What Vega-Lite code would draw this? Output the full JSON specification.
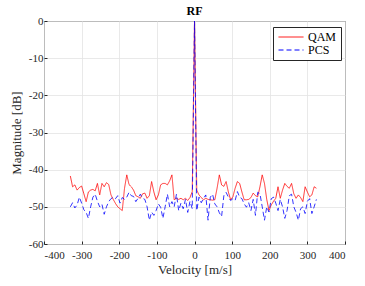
{
  "$schema": "https://vega.github.io/schema/vega-lite/v6.json",
  "autosize": {"type": "none"},
  "padding": {"left": 44, "top": 21, "right": 20, "bottom": 42},
  "width": 301,
  "height": 223,
  "title": {"text": "RF", "font": "Liberation Serif", "fontSize": 12, "fontWeight": "bold", "color": "#000000", "offset": 0, "dy": 3},
  "config": {
    "view": {"stroke": "#262626", "strokeWidth": 1},
    "axis": {
      "labelFont": "Liberation Serif", "titleFont": "Liberation Serif",
      "labelFontSize": 11, "titleFontSize": 13, "titleFontWeight": "normal",
      "labelColor": "#262626", "titleColor": "#262626",
      "gridColor": "#e3e3e3", "gridWidth": 0.8,
      "domain": false, "tickColor": "#262626", "tickSize": -3
    }
  },
  "data": {"values": [
    {"v": -330, "QAM": -41.7, "PCS": -50.0},
    {"v": -324, "QAM": -44.6, "PCS": -48.9},
    {"v": -318, "QAM": -44.1, "PCS": -50.3},
    {"v": -312, "QAM": -45.5, "PCS": -49.5},
    {"v": -306, "QAM": -44.8, "PCS": -47.4},
    {"v": -300, "QAM": -44.4, "PCS": -49.0},
    {"v": -294, "QAM": -46.5, "PCS": -50.8},
    {"v": -288, "QAM": -48.6, "PCS": -51.5},
    {"v": -282, "QAM": -46.0, "PCS": -53.1},
    {"v": -276, "QAM": -45.5, "PCS": -50.0},
    {"v": -270, "QAM": -45.3, "PCS": -47.4},
    {"v": -264, "QAM": -45.7, "PCS": -46.6},
    {"v": -258, "QAM": -43.7, "PCS": -48.5},
    {"v": -252, "QAM": -46.8, "PCS": -50.0},
    {"v": -246, "QAM": -43.7, "PCS": -49.3},
    {"v": -240, "QAM": -44.6, "PCS": -52.0},
    {"v": -234, "QAM": -43.5, "PCS": -50.0},
    {"v": -228, "QAM": -44.0, "PCS": -48.6},
    {"v": -222, "QAM": -46.8, "PCS": -47.8},
    {"v": -216, "QAM": -48.0, "PCS": -47.4},
    {"v": -210, "QAM": -49.1, "PCS": -47.8},
    {"v": -204, "QAM": -50.0, "PCS": -47.0},
    {"v": -198, "QAM": -50.5, "PCS": -49.0},
    {"v": -192, "QAM": -51.0, "PCS": -47.5},
    {"v": -186, "QAM": -45.0, "PCS": -48.0},
    {"v": -180, "QAM": -41.4, "PCS": -47.4},
    {"v": -174, "QAM": -44.0, "PCS": -46.1},
    {"v": -168, "QAM": -44.6, "PCS": -47.0},
    {"v": -162, "QAM": -45.5, "PCS": -47.2},
    {"v": -156, "QAM": -47.0, "PCS": -48.6},
    {"v": -150, "QAM": -47.3, "PCS": -47.7},
    {"v": -144, "QAM": -47.7, "PCS": -46.6},
    {"v": -138, "QAM": -46.5, "PCS": -47.7},
    {"v": -132, "QAM": -46.3, "PCS": -48.0},
    {"v": -126, "QAM": -47.7, "PCS": -50.0},
    {"v": -120, "QAM": -47.0, "PCS": -53.6},
    {"v": -114, "QAM": -43.2, "PCS": -51.4},
    {"v": -108, "QAM": -46.0, "PCS": -52.3},
    {"v": -102, "QAM": -48.1, "PCS": -51.0},
    {"v": -96, "QAM": -46.8, "PCS": -49.2},
    {"v": -90, "QAM": -44.1, "PCS": -50.1},
    {"v": -84, "QAM": -43.7, "PCS": -53.1},
    {"v": -78, "QAM": -43.7, "PCS": -50.0},
    {"v": -72, "QAM": -44.1, "PCS": -46.6},
    {"v": -66, "QAM": -43.0, "PCS": -50.0},
    {"v": -60, "QAM": -41.4, "PCS": -48.6},
    {"v": -54, "QAM": -48.1, "PCS": -50.0},
    {"v": -48, "QAM": -47.7, "PCS": -46.6},
    {"v": -42, "QAM": -48.0, "PCS": -51.0},
    {"v": -36, "QAM": -47.7, "PCS": -49.0},
    {"v": -30, "QAM": -48.1, "PCS": -50.5},
    {"v": -24, "QAM": -47.7, "PCS": -48.0},
    {"v": -18, "QAM": -48.3, "PCS": -51.5},
    {"v": -12, "QAM": -47.5, "PCS": -48.5},
    {"v": -6, "QAM": -45.9, "PCS": -50.5},
    {"v": 0, "QAM": 0, "PCS": 0},
    {"v": 6, "QAM": -45.5, "PCS": -51.0},
    {"v": 12, "QAM": -46.8, "PCS": -47.4},
    {"v": 18, "QAM": -47.5, "PCS": -48.9},
    {"v": 24, "QAM": -48.1, "PCS": -47.7},
    {"v": 30, "QAM": -47.7, "PCS": -46.8},
    {"v": 36, "QAM": -48.0, "PCS": -53.6},
    {"v": 42, "QAM": -48.1, "PCS": -47.4},
    {"v": 48, "QAM": -48.2, "PCS": -46.6},
    {"v": 54, "QAM": -48.1, "PCS": -49.2},
    {"v": 60, "QAM": -45.0, "PCS": -50.0},
    {"v": 66, "QAM": -41.4, "PCS": -51.6},
    {"v": 72, "QAM": -44.1, "PCS": -52.6},
    {"v": 78, "QAM": -44.5, "PCS": -47.0},
    {"v": 84, "QAM": -43.2, "PCS": -46.1},
    {"v": 90, "QAM": -46.0, "PCS": -47.4},
    {"v": 96, "QAM": -48.1, "PCS": -48.3},
    {"v": 102, "QAM": -47.3, "PCS": -47.8},
    {"v": 108, "QAM": -45.0, "PCS": -48.3},
    {"v": 114, "QAM": -43.2, "PCS": -45.9},
    {"v": 120, "QAM": -43.7, "PCS": -47.4},
    {"v": 126, "QAM": -46.0, "PCS": -47.8},
    {"v": 132, "QAM": -48.1, "PCS": -49.2},
    {"v": 138, "QAM": -48.1, "PCS": -50.1},
    {"v": 144, "QAM": -48.0, "PCS": -48.9},
    {"v": 150, "QAM": -47.5, "PCS": -51.0},
    {"v": 156, "QAM": -46.3, "PCS": -48.0},
    {"v": 162, "QAM": -47.0, "PCS": -52.3},
    {"v": 168, "QAM": -47.3, "PCS": -46.1},
    {"v": 174, "QAM": -44.6, "PCS": -46.5},
    {"v": 180, "QAM": -41.4, "PCS": -50.0},
    {"v": 186, "QAM": -43.7, "PCS": -53.6},
    {"v": 192, "QAM": -48.0, "PCS": -50.0},
    {"v": 198, "QAM": -51.0, "PCS": -51.4},
    {"v": 204, "QAM": -49.5, "PCS": -47.8},
    {"v": 210, "QAM": -48.5, "PCS": -47.4},
    {"v": 216, "QAM": -47.7, "PCS": -49.0},
    {"v": 222, "QAM": -44.6, "PCS": -51.0},
    {"v": 228, "QAM": -47.7, "PCS": -48.0},
    {"v": 234, "QAM": -45.5, "PCS": -50.0},
    {"v": 240, "QAM": -43.7, "PCS": -53.1},
    {"v": 246, "QAM": -44.5, "PCS": -51.0},
    {"v": 252, "QAM": -45.0, "PCS": -47.0},
    {"v": 258, "QAM": -43.7, "PCS": -46.6},
    {"v": 264, "QAM": -46.5, "PCS": -50.0},
    {"v": 270, "QAM": -47.7, "PCS": -51.5},
    {"v": 276, "QAM": -46.8, "PCS": -53.6},
    {"v": 282, "QAM": -47.5, "PCS": -50.5},
    {"v": 288, "QAM": -48.6, "PCS": -50.0},
    {"v": 294, "QAM": -44.6, "PCS": -51.8},
    {"v": 300, "QAM": -46.0, "PCS": -48.5},
    {"v": 306, "QAM": -47.3, "PCS": -47.8},
    {"v": 312, "QAM": -46.8, "PCS": -51.8},
    {"v": 318, "QAM": -44.6, "PCS": -50.0},
    {"v": 324, "QAM": -45.0, "PCS": -48.0}
  ]},
  "transform": [{"fold": ["QAM", "PCS"], "as": ["series", "mag"]}],
  "mark": {"type": "line", "strokeWidth": 0.8, "clip": true},
  "encoding": {
    "x": {"field": "v", "type": "quantitative", "scale": {"domain": [-400, 400], "nice": false},
      "axis": {"values": [-400, -300, -200, -100, 0, 100, 200, 300, 400], "title": "Velocity [m/s]", "titlePadding": 3,
        "labelPadding": 8, "labelFont": "Liberation Serif", "labelExpr": "'' + datum.value"}},
    "y": {"field": "mag", "type": "quantitative", "scale": {"domain": [-60, 0], "nice": false, "zero": false},
      "axis": {"values": [-60, -50, -40, -30, -20, -10, 0], "title": "Magnitude [dB]", "titlePadding": 5,
        "labelPadding": 4, "labelFont": "Liberation Serif", "labelExpr": "'' + datum.value"}},
    "color": {"field": "series", "type": "nominal", "sort": ["QAM", "PCS"],
      "scale": {"domain": ["QAM", "PCS"], "range": ["#ff0000", "#0000ff"]},
      "legend": {"title": null, "orient": "none", "legendX": 229, "legendY": 6,
        "symbolType": "M-2.5,0H2.5", "symbolSize": 100, "symbolStrokeWidth": 1, "symbolOffset": 8,
        "labelFont": "Liberation Serif", "labelFontSize": 12, "labelColor": "#000000",
        "strokeColor": "#262626", "fillColor": "#ffffff", "padding": 4, "rowPadding": 1, "labelOffset": 11}},
    "strokeDash": {"field": "series", "type": "nominal", "sort": ["QAM", "PCS"],
      "scale": {"domain": ["QAM", "PCS"], "range": [[1, 0], [5, 3]]},
      "legend": {"title": null, "orient": "none", "legendX": 229, "legendY": 6,
        "symbolType": "M-2.5,0H2.5", "symbolSize": 100, "symbolStrokeWidth": 1, "symbolOffset": 8,
        "labelFont": "Liberation Serif", "labelFontSize": 12, "labelColor": "#000000",
        "strokeColor": "#262626", "fillColor": "#ffffff", "padding": 4, "rowPadding": 1, "labelOffset": 11}}
  }
}
